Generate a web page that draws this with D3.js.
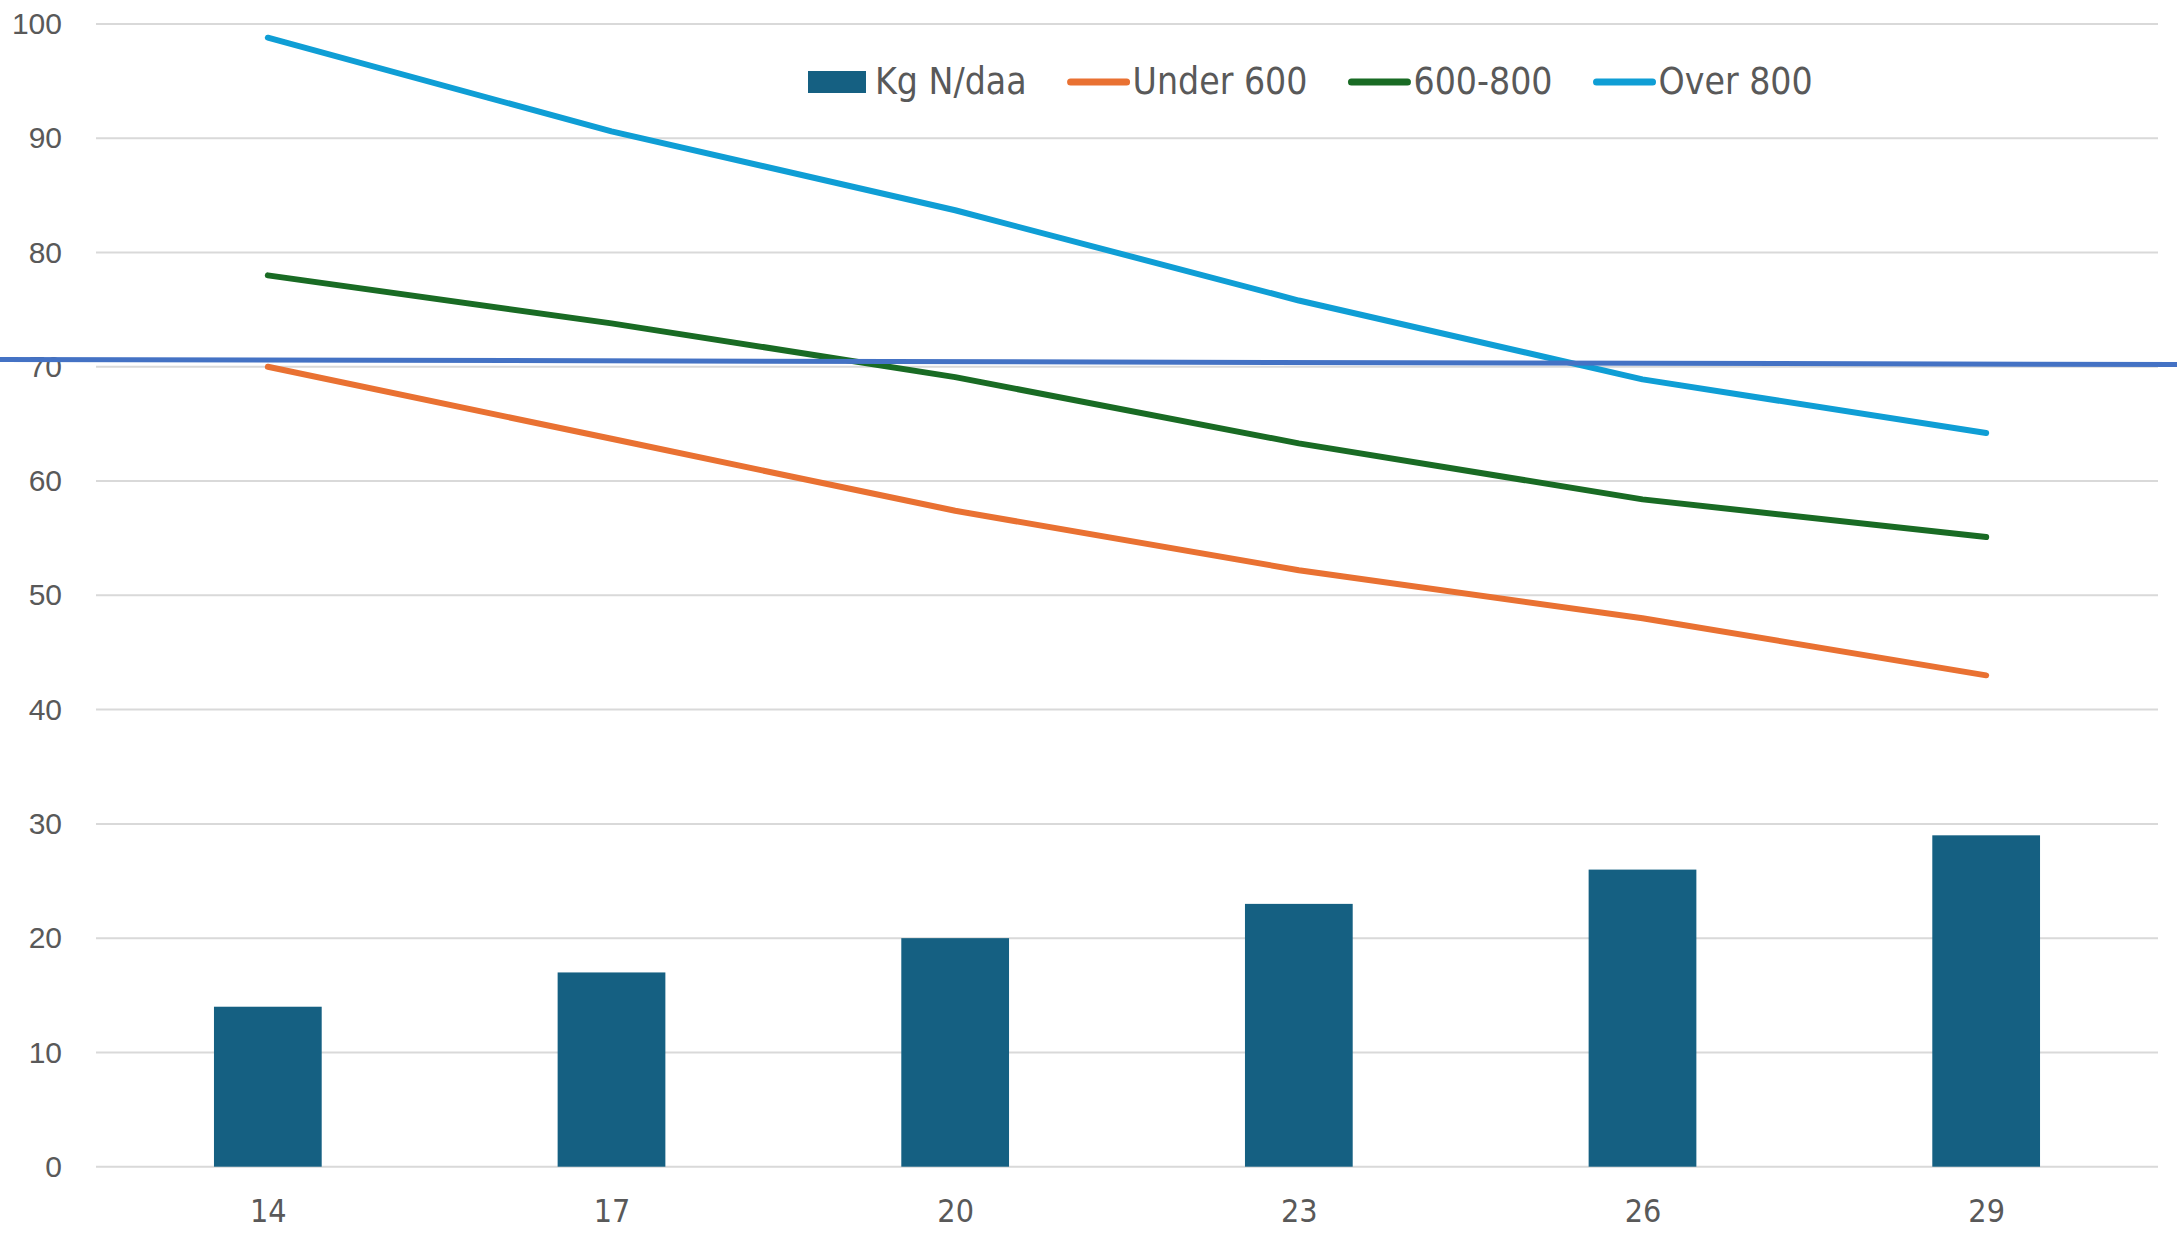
<!DOCTYPE html>
<html>
<head>
<meta charset="utf-8">
<script src="https://cdn.jsdelivr.net/npm/d3@7"></script>
<style>
  html, body { margin: 0; padding: 0; background: #ffffff; }
  svg { display: block; }
</style>
</head>
<body>
<svg id="chart" width="2177" height="1241"></svg>
<script>
// Nitrogen rate categories (kg N/daa) on the x axis
const categories = ["14", "17", "20", "23", "26", "29"];
// Bar series: applied nitrogen
const kgNdaa = [14, 17, 20, 23, 26, 29];
// Line series by yield group
const under600 = [70.0, 63.7, 57.4, 52.2, 48.0, 43.0];
const from600to800 = [78.0, 73.8, 69.1, 63.3, 58.4, 55.1];
const over800 = [98.8, 90.6, 83.7, 75.8, 68.9, 64.2];
// Reference line values at the left and right edges
const refLine = [70.65, 70.2];
// Y axis ticks
const yTicks = [0, 10, 20, 30, 40, 50, 60, 70, 80, 90, 100];

const W = 2177, H = 1241;
const plot = { left: 96, right: 2158, top: 24, bottom: 1166.7 };

const svg = d3.select("#chart");
const textColor = "#595959";
const axisFont = "'Liberation Sans', Arial, sans-serif";
const narrowFont = "'Liberation Sans Narrow', 'Arial Narrow', 'DejaVu Sans Condensed', sans-serif";

const y = d3.scaleLinear().domain([0, 100]).range([plot.bottom, plot.top]);
const x = d3.scalePoint().domain(categories).range([plot.left, plot.right]).padding(0.5);
const step = x.step();
const barW = step / 3.19;

// Gridlines
svg.append("g")
  .selectAll("line")
  .data(yTicks)
  .join("line")
  .attr("x1", plot.left)
  .attr("x2", plot.right)
  .attr("y1", d => y(d))
  .attr("y2", d => y(d))
  .attr("stroke", "#d9d9d9")
  .attr("stroke-width", 2);

// Y axis labels
const yAxis = d3.axisLeft(y).tickValues(yTicks).tickSize(0).tickPadding(0).tickFormat(d3.format("d"));
const gy = svg.append("g").attr("transform", "translate(62,0)").call(yAxis);
gy.select(".domain").remove();
gy.selectAll("text")
  .attr("fill", textColor)
  .style("font-family", axisFont)
  .style("font-size", "30px");

// X axis labels
const xAxis = d3.axisBottom(x).tickSize(0).tickPadding(0);
const gx = svg.append("g").attr("transform", "translate(0,1199)").call(xAxis);
gx.select(".domain").remove();
gx.selectAll("text")
  .attr("fill", textColor)
  .attr("dy", "0.71em")
  .style("font-family", narrowFont)
  .style("font-size", "32px");

// Bars
const barColor = "#156082";
svg.append("g")
  .selectAll("rect")
  .data(kgNdaa)
  .join("rect")
  .attr("x", (d, i) => x(categories[i]) - barW / 2)
  .attr("y", d => y(d))
  .attr("width", barW)
  .attr("height", d => y(0) - y(d))
  .attr("fill", barColor);

// Lines
const series = [
  { name: "Under 600", values: under600, color: "#e97132" },
  { name: "600-800", values: from600to800, color: "#196b24" },
  { name: "Over 800", values: over800, color: "#0f9ed5" }
];
const line = d3.line()
  .x((d, i) => x(categories[i]))
  .y(d => y(d));
svg.append("g")
  .selectAll("path")
  .data(series)
  .join("path")
  .attr("d", s => line(s.values))
  .attr("fill", "none")
  .attr("stroke", s => s.color)
  .attr("stroke-width", 6)
  .attr("stroke-linecap", "round")
  .attr("stroke-linejoin", "round");

// Horizontal reference line spanning the full width
const xEdge = d3.scaleLinear().domain([0, 1]).range([0, W]);
svg.append("path")
  .datum(refLine)
  .attr("d", d3.line().x((d, i) => xEdge(i)).y(d => y(d)))
  .attr("fill", "none")
  .attr("stroke", "#4472c4")
  .attr("stroke-width", 5);

// Legend
const legend = svg.append("g");
const legendItems = [
  { name: "Kg N/daa", type: "bar", color: barColor },
  ...series.map(s => ({ name: s.name, type: "line", color: s.color }))
];
let lx = 808;
const ly = 82;
legendItems.forEach(item => {
  const g = legend.append("g");
  if (item.type === "bar") {
    g.append("rect").attr("x", lx).attr("y", ly - 11).attr("width", 58).attr("height", 22).attr("fill", item.color);
    lx += 58 + 9;
  } else {
    g.append("line").attr("x1", lx + 3).attr("x2", lx + 59).attr("y1", ly).attr("y2", ly)
      .attr("stroke", item.color).attr("stroke-width", 7).attr("stroke-linecap", "round");
    lx += 62 + 3;
  }
  const t = g.append("text")
    .attr("x", lx)
    .attr("y", ly + 12)
    .attr("fill", textColor)
    .style("font-family", narrowFont)
    .style("font-size", "37px")
    .text(item.name);
  lx += t.node().getComputedTextLength() + 41;
});
</script>
</body>
</html>
